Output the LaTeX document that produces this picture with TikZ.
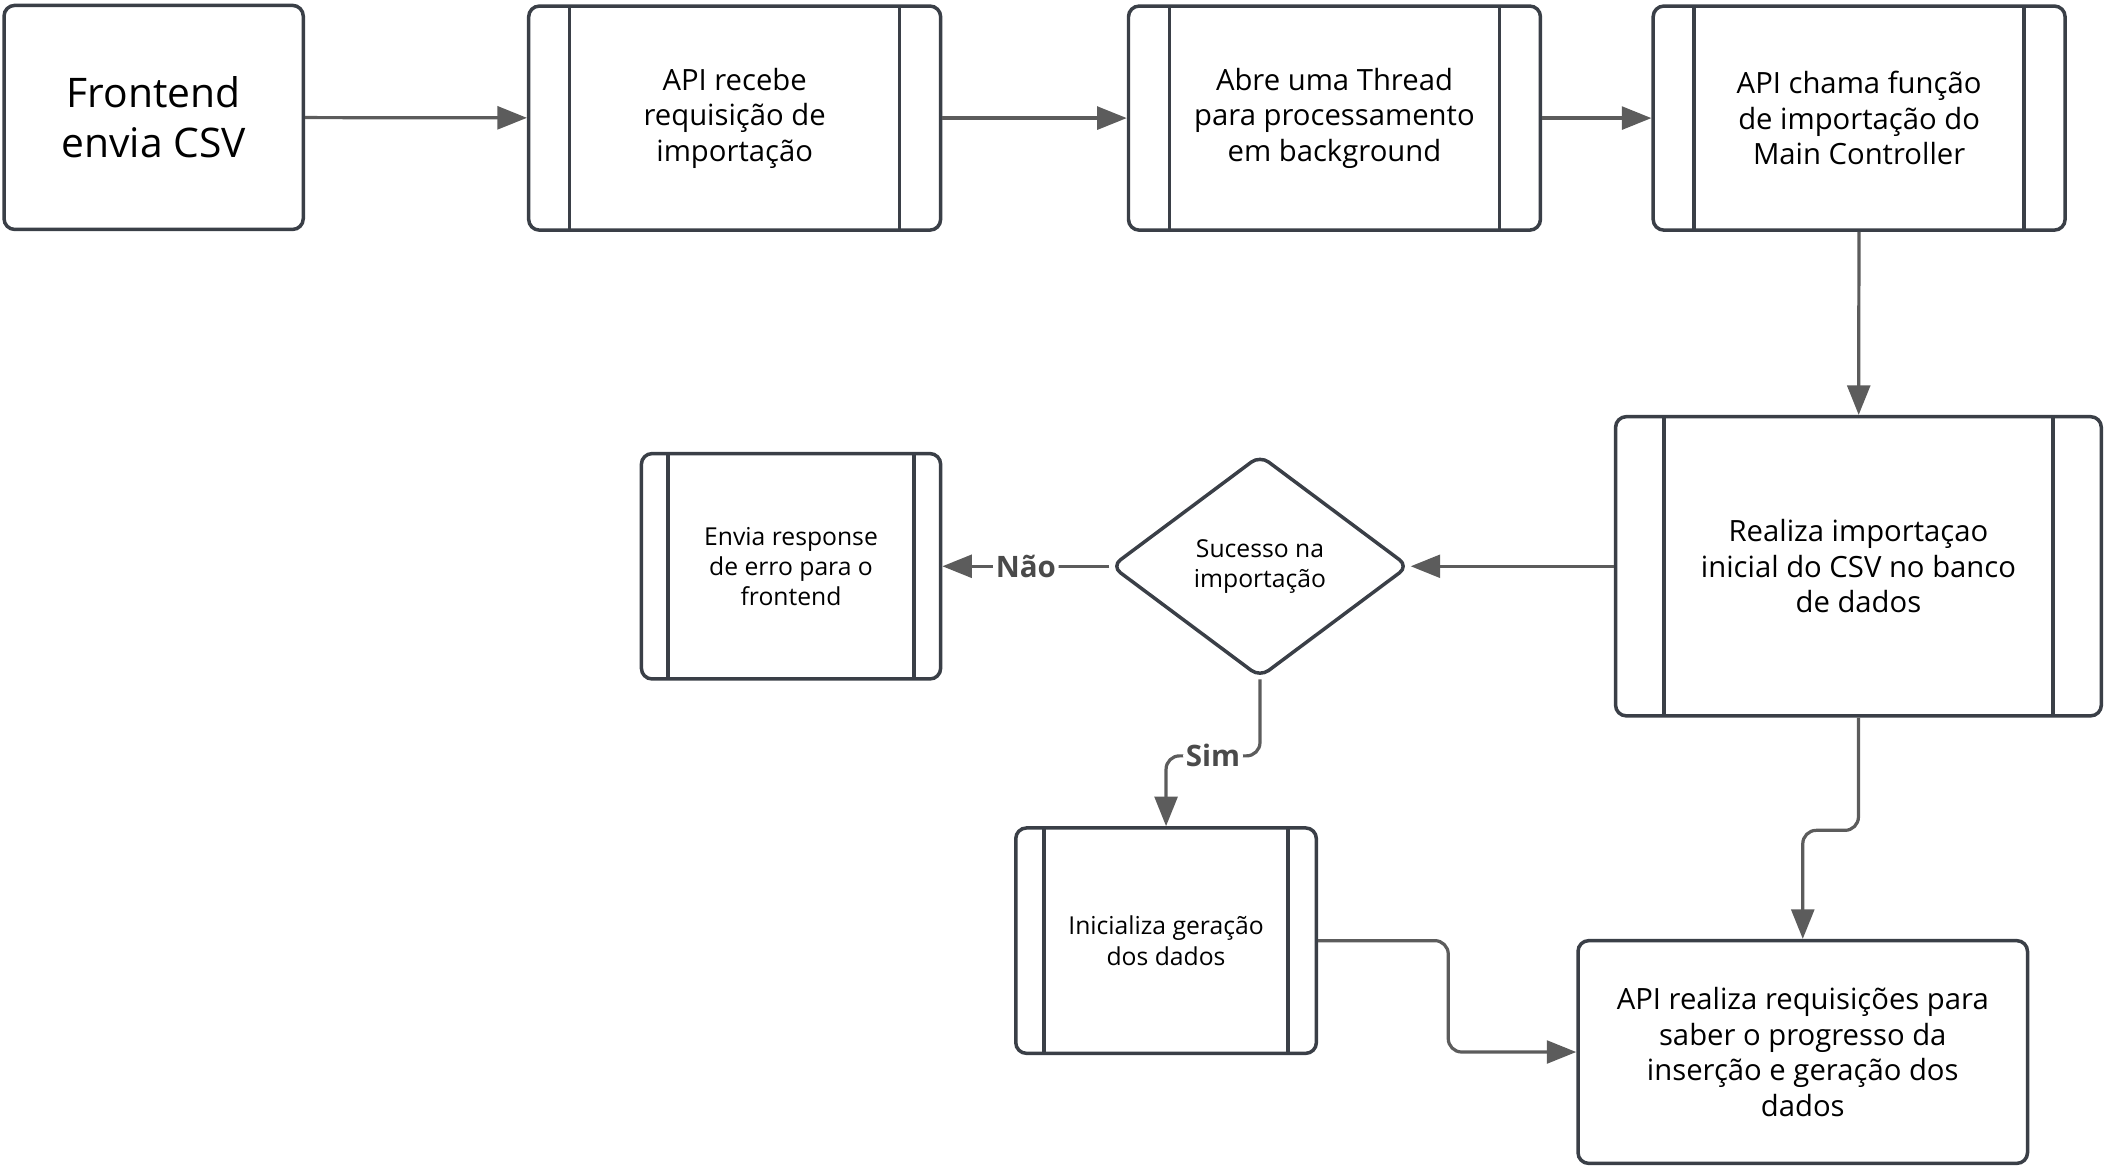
\documentclass[tikz,border=0pt]{standalone}
\usepackage{fontspec}
\setmainfont{Open Sans}
\usepackage{tikz}
\usetikzlibrary{shapes.geometric,arrows.meta}

\definecolor{edgec}{HTML}{3A3F47}
\definecolor{flowc}{HTML}{5C5C5C}
\newcommand{\bigtxt}{\fontsize{15.2pt}{18.5pt}\selectfont}
\newcommand{\midtxt}{\fontsize{10.9pt}{13.25pt}\selectfont}
\newcommand{\smltxt}{\fontsize{9.2pt}{11.25pt}\selectfont}

\tikzset{
    box/.style={draw=edgec, line width=1.3pt, rounded corners=4pt, fill=white, align=center,
        minimum height=83.5pt, inner sep=0pt, font=\midtxt},
    sub/.style={box, path picture={
        \draw[edgec, line width=1.3pt]
        ([xshift=#1]path picture bounding box.north west) -- ([xshift=#1]path picture bounding box.south west)
        ([xshift=-#1]path picture bounding box.north east) -- ([xshift=-#1]path picture bounding box.south east);}},
    flow/.style={draw=flowc, line width=1.2pt, rounded corners=5pt, -{Triangle[length=11pt,width=8.5pt]}},
    lbl/.style={fill=white, inner sep=1pt, text=flowc!80!black, font=\fontsize{11pt}{13pt}\selectfont\bfseries}
}

\begin{document}
\begin{tikzpicture}[x=0.5pt, y=-0.5pt]
                \useasboundingbox (0,0) rectangle (1568,869);
                \node[box, minimum width=111.5pt, font=\bigtxt] (fe) at (114.5, 87.5) {Frontend\\envia CSV};
                \node[sub=15.25pt, minimum width=153.5pt] (api) at (547.5, 88) {API recebe\\requisição de\\importação};
                \node[sub=15.25pt, minimum width=153.5pt] (thr) at (994.5, 88) {Abre uma Thread\\para processamento\\em background};
                \node[sub=15.25pt, minimum width=153.5pt] (ctl) at (1385.5, 88) {API chama função\\de importação do\\Main Controller};
                \node[sub=18pt, minimum width=181pt, minimum height=111.5pt] (imp) at (1385, 422) {Realiza importaçao\\inicial do CSV no banco\\de dados};
                \node[draw=edgec, line width=1.3pt, rounded corners=4pt, diamond, aspect=1.35, minimum width=111pt,
                    minimum height=83pt, inner sep=0pt, align=center, font=\smltxt] (dec) at (939, 422) {Sucesso na\\importação};
                \node[sub=10pt, minimum width=111.5pt, minimum height=84pt, font=\smltxt] (err) at (589.5, 422) {Envia response\\de erro para o\\frontend};
                \node[sub=10.5pt, minimum width=112pt, minimum height=84pt, font=\smltxt] (ger) at (869, 701) {Inicializa geração\\dos dados};
                \node[box, minimum width=167.5pt, minimum height=83pt] (req) at (1343.5, 784) {API realiza requisições para\\saber o progresso da\\inserção e geração dos\\dados};
                \draw
                (fe) edge[flow] (api)
                (api) edge[flow] (thr)
                (thr) edge[flow] (ctl)
                (ctl) edge[flow] (imp)
                (imp) edge[flow] (dec)
                (dec) edge[flow] node[lbl]{Não} (err);
                \draw[flow] (dec.south) -- ++(0,57) -| node[lbl, pos=0.25]{Sim} (ger.north);
                \draw[flow] (ger.east) -- ++(97,0) |- (req.west);
                \draw[flow] (imp.south) -- ++(0,84) -| (req.north);
            \end{tikzpicture}
\end{document}
